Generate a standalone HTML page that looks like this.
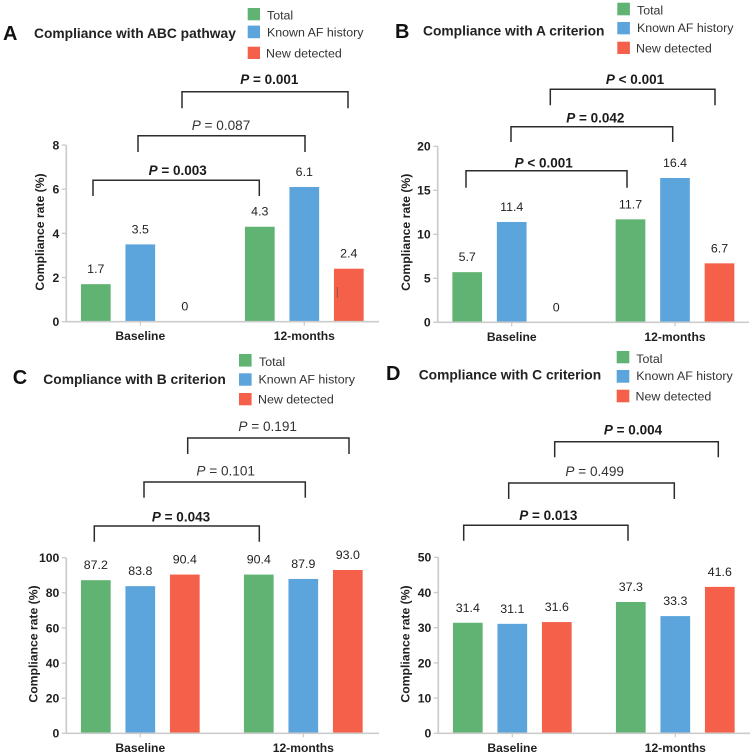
<!DOCTYPE html>
<html lang="en">
<head>
<meta charset="utf-8">
<title>Compliance charts</title>
<style>
html,body{margin:0;padding:0;background:#fff;width:753px;height:754px;overflow:hidden}
svg{display:block}
text{font-family:"Liberation Sans",Arial,sans-serif;fill:#1f1f1f}
.title{font-size:13.8px;font-weight:700;fill:#222}
.letter{font-size:20px;font-weight:700;fill:#111}
.legend{font-size:12.4px;fill:#333}
.p{font-size:13.6px;text-anchor:middle;fill:#333}
.pb{font-size:13.5px;font-weight:700;text-anchor:middle;fill:#1a1a1a}
.br{fill:none;stroke:#2c2c2c;stroke-width:1.5}
</style>
</head>
<body>
<svg id="figure" xmlns="http://www.w3.org/2000/svg" width="753" height="754" viewBox="0 0 753 754">
<rect width="753" height="754" fill="#fff"/>

<!-- Panel A annotations -->
<g>
<text class="letter" x="3" y="40">A</text>
<text class="title" x="34" y="38.2">Compliance with ABC pathway</text>
<rect x="247.7" y="8" width="12.3" height="12.3" fill="#61b374"/>
<text class="legend" x="267" y="19.7">Total</text>
<rect x="247.7" y="25.6" width="12.3" height="12.6" fill="#5ca4dc"/>
<text class="legend" x="267" y="36.7">Known AF history</text>
<rect x="247.7" y="46.7" width="12.3" height="12.3" fill="#f4604a"/>
<text class="legend" x="266" y="57.4">New detected</text>
</g>
<g>
<path class="br" d="M93 196V180.3H259.3V196"/>
<text class="pb" x="177.7" y="174.8"><tspan font-style="italic">P</tspan> = 0.003</text>
<path class="br" d="M138 152V135.7H305V152"/>
<text class="p" x="221" y="129.8"><tspan font-style="italic">P</tspan> = 0.087</text>
<path class="br" d="M182 108.3V91.7H348V108.3"/>
<text class="pb" x="269.3" y="83.8"><tspan font-style="italic">P</tspan> = 0.001</text>
</g>

<!-- Panel B annotations -->
<g>
<text class="letter" x="395" y="38.2">B</text>
<text class="title" x="423" y="35.5">Compliance with A criterion</text>
<rect x="617.3" y="2.7" width="12.6" height="12.6" fill="#61b374"/>
<text class="legend" x="637" y="14.7">Total</text>
<rect x="617.3" y="22" width="12.6" height="12.3" fill="#5ca4dc"/>
<text class="legend" x="637" y="32.1">Known AF history</text>
<rect x="617.3" y="41.7" width="12.6" height="12.3" fill="#f4604a"/>
<text class="legend" x="636" y="52.4">New detected</text>
</g>
<g>
<path class="br" d="M466 187.7V170.7H627V187.7"/>
<text class="pb" x="543.7" y="167.5"><tspan font-style="italic">P</tspan> &lt; 0.001</text>
<path class="br" d="M511 142V126.7H672.7V142"/>
<text class="pb" x="595.3" y="122.5"><tspan font-style="italic">P</tspan> = 0.042</text>
<path class="br" d="M550.3 105.3V89.3H715V105.3"/>
<text class="pb" x="635" y="84.1"><tspan font-style="italic">P</tspan> &lt; 0.001</text>
</g>

<!-- Panel C annotations -->
<g>
<text class="letter" x="12.7" y="384">C</text>
<text class="title" x="43.3" y="383.8">Compliance with B criterion</text>
<rect x="239" y="354" width="12.6" height="12.6" fill="#61b374"/>
<text class="legend" x="259" y="366.1">Total</text>
<rect x="239" y="373.3" width="12.6" height="12.4" fill="#5ca4dc"/>
<text class="legend" x="258.5" y="383.4">Known AF history</text>
<rect x="239" y="393" width="12.6" height="12.3" fill="#f4604a"/>
<text class="legend" x="258" y="403.7">New detected</text>
</g>
<g>
<path class="br" d="M94.3 541.7V526H259.3V541.7"/>
<text class="pb" x="181" y="521.5"><tspan font-style="italic">P</tspan> = 0.043</text>
<path class="br" d="M144 497.7V482H305.3V497.7"/>
<text class="p" x="225.7" y="475.5"><tspan font-style="italic">P</tspan> = 0.101</text>
<path class="br" d="M187.7 454V438H349V454"/>
<text class="p" x="267.7" y="431.1"><tspan font-style="italic">P</tspan> = 0.191</text>
</g>

<!-- Panel D annotations -->
<g>
<text class="letter" x="386" y="380">D</text>
<text class="title" x="418.7" y="379.5">Compliance with C criterion</text>
<rect x="616.7" y="351" width="12.6" height="12.3" fill="#61b374"/>
<text class="legend" x="636.3" y="363.1">Total</text>
<rect x="616.7" y="370" width="12.6" height="12.7" fill="#5ca4dc"/>
<text class="legend" x="636.3" y="380.1">Known AF history</text>
<rect x="616.7" y="389.7" width="12.6" height="12.6" fill="#f4604a"/>
<text class="legend" x="635.5" y="400.7">New detected</text>
</g>
<g>
<path class="br" d="M463.7 540.7V525.3H628V540.7"/>
<text class="pb" x="548.3" y="519.8"><tspan font-style="italic">P</tspan> = 0.013</text>
<path class="br" d="M508.7 499V483H674.3V499"/>
<text class="p" x="594.7" y="476.1"><tspan font-style="italic">P</tspan> = 0.499</text>
<path class="br" d="M554.7 457.3V441.7H718.3V457.3"/>
<text class="pb" x="633" y="434.5"><tspan font-style="italic">P</tspan> = 0.004</text>
</g>
<g id="charts"></g>
<line x1="337.3" y1="287" x2="337.3" y2="298" stroke="#8a4a3c" stroke-width="0.8"/>
</svg>
<script>
const categories = ['Baseline', '12-months'];
const seriesKeys = ['total', 'known', 'new'];
const seriesColors = ['#61b374', '#5ca4dc', '#f4604a'];

const panelATotal = [1.7, 4.3];
const panelAKnown = [3.5, 6.1];
const panelANew = [0, 2.4];
const panelATicks = [0, 2, 4, 6, 8];

const panelBTotal = [5.7, 11.7];
const panelBKnown = [11.4, 16.4];
const panelBNew = [0, 6.7];
const panelBTicks = [0, 5, 10, 15, 20];

const panelCTotal = [87.2, 90.4];
const panelCKnown = [83.8, 87.9];
const panelCNew = [90.4, 93.0];
const panelCTicks = [0, 20, 40, 60, 80, 100];

const panelDTotal = [31.4, 37.3];
const panelDKnown = [31.1, 33.3];
const panelDNew = [31.6, 41.6];
const panelDTicks = [0, 10, 20, 30, 40, 50];

const NS = 'http://www.w3.org/2000/svg';
const root = document.getElementById('charts');

function make(tag, attrs, parent, content) {
  const el = document.createElementNS(NS, tag);
  for (const k in attrs) el.setAttribute(k, attrs[k]);
  if (content !== undefined) el.textContent = content;
  parent.appendChild(el);
  return el;
}

function printed(v) {
  return v === 0 ? '0' : v.toFixed(1);
}

function drawPanel(id, box, ticks, series) {
  const maxTick = ticks[ticks.length - 1];
  const yScale = function (v) { return box.bottom - (v / maxTick) * (box.bottom - box.top); };
  const xGroup = function (i) { return box.groupStart + i * box.groupStep; };
  const barOffset = 44.5;
  const barWidth = 29.7;

  const g = make('g', {}, root);
  
  

  // bars and printed values
  series.forEach(function (values, s) {
    values.forEach(function (v, i) {
      const cx = xGroup(i) + (s - 1) * barOffset;
      const y = yScale(v);
      const bar = make('rect', { x: cx - barWidth / 2, y: y, width: barWidth, height: box.bottom - y, fill: seriesColors[s] }, g);
      
      
      const label = make('text', { x: cx, y: y - 11, 'text-anchor': 'middle', 'font-size': '12.4', fill: '#333' }, g, printed(v));
      
      
    });
  });

  // y axis
  const yAxis = make('line', { x1: box.axisX, x2: box.axisX, y1: box.top, y2: box.bottom, stroke: '#cccccc', 'stroke-width': '1.7' }, g);
  
  
  ticks.forEach(function (t) {
    const y = yScale(t);
    const tick = make('line', { x1: box.axisX - 4.5, x2: box.axisX, y1: y, y2: y, stroke: '#c9c9c9', 'stroke-width': '1.3' }, g);
    
    
    const label = make('text', { x: box.axisX - 7, y: y + 4.4, 'text-anchor': 'end', 'font-size': '12.2', 'font-weight': '700', fill: '#1a1a1a' }, g, String(t));
    
    
  });

  // x axis
  const xAxis = make('line', { x1: box.axisX, x2: box.axisEnd, y1: box.bottom, y2: box.bottom, stroke: '#cccccc', 'stroke-width': '1.7' }, g);
  
  
  categories.forEach(function (c, i) {
    const x = xGroup(i);
    const tick = make('line', { x1: x, x2: x, y1: box.bottom, y2: box.bottom + 4, stroke: '#c9c9c9', 'stroke-width': '1.2' }, g);
    
    
    const label = make('text', { x: x, y: box.bottom + 18.5, 'text-anchor': 'middle', 'font-size': '12.1', 'font-weight': '700', fill: '#222' }, g, c);
    
    
  });

  // y axis title
  const title = make('text', { transform: 'translate(' + box.titleX + ' ' + box.titleY + ') rotate(-90)', 'text-anchor': 'middle', 'font-size': '12.2', 'font-weight': '700', fill: '#222' }, g, 'Compliance rate (%)');
  
  
}

drawPanel('a', { axisX: 66.3, axisEnd: 379, top: 145, bottom: 321.7, groupStart: 140.3, groupStep: 164, titleX: 44, titleY: 232 }, panelATicks, [panelATotal, panelAKnown, panelANew]);
drawPanel('b', { axisX: 437.7, axisEnd: 749, top: 146.3, bottom: 322.3, groupStart: 511.7, groupStep: 163.3, titleX: 410, titleY: 232.3 }, panelBTicks, [panelBTotal, panelBKnown, panelBNew]);
drawPanel('c', { axisX: 66.3, axisEnd: 379, top: 557.7, bottom: 733.3, groupStart: 140.3, groupStep: 163, titleX: 37.3, titleY: 644 }, panelCTicks, [panelCTotal, panelCKnown, panelCNew]);
drawPanel('d', { axisX: 438.3, axisEnd: 750, top: 557.3, bottom: 733.3, groupStart: 512.3, groupStep: 163, titleX: 409.3, titleY: 644 }, panelDTicks, [panelDTotal, panelDKnown, panelDNew]);
</script>
</body>
</html>
